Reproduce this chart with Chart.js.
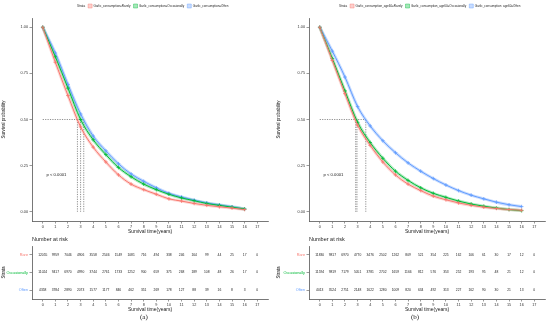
<!DOCTYPE html>
<html>
<head>
<meta charset="utf-8">
<script src="https://cdn.jsdelivr.net/npm/chart.js@4.4.1/dist/chart.umd.min.js"></script>
<style>
  body { margin: 0; background: #fff; }
  #wrap { position: relative; width: 550px; height: 325px; overflow: hidden; background: #fff; }
  canvas { position: absolute; }
  .cap { position: absolute; top: 313px; font-family: "Liberation Serif", serif; font-size: 7px; color: #222; }
</style>
</head>
<body>
<div id="wrap">
  <canvas id="survA" style="left:0;top:0" width="275" height="236"></canvas>
  <canvas id="riskA" style="left:0;top:232px" width="275" height="82"></canvas>
  <canvas id="survB" style="left:275px;top:0" width="275" height="236"></canvas>
  <canvas id="riskB" style="left:275px;top:232px" width="275" height="82"></canvas>
  <div class="cap" style="left:140px">(a)</div>
  <div class="cap" style="left:411px">(b)</div>
</div>
<script>
// survival curves, read at whole years
const years = [0, 1, 2, 3, 4, 5, 6, 7, 8, 9, 10, 11, 12, 13, 14, 15, 16];
const survRareA = [1.0, 0.81, 0.63, 0.46, 0.35, 0.27, 0.20, 0.15, 0.12, 0.095, 0.07, 0.058, 0.045, 0.035, 0.027, 0.02, 0.012];
const survOccA = [1.0, 0.84, 0.67, 0.50, 0.39, 0.31, 0.24, 0.19, 0.15, 0.12, 0.095, 0.075, 0.06, 0.045, 0.035, 0.025, 0.015];
const survOftenA = [1.0, 0.86, 0.69, 0.53, 0.41, 0.33, 0.26, 0.205, 0.165, 0.13, 0.10, 0.08, 0.063, 0.048, 0.037, 0.027, 0.015];

const survRareB = [1.0, 0.82, 0.64, 0.47, 0.36, 0.27, 0.20, 0.15, 0.115, 0.085, 0.065, 0.048, 0.035, 0.025, 0.018, 0.012, 0.008];
const survOccB = [1.0, 0.83, 0.655, 0.485, 0.375, 0.29, 0.22, 0.17, 0.13, 0.10, 0.078, 0.058, 0.042, 0.03, 0.02, 0.012, 0.006];
const survOftenB = [1.0, 0.87, 0.73, 0.57, 0.465, 0.385, 0.32, 0.265, 0.22, 0.18, 0.145, 0.115, 0.09, 0.07, 0.052, 0.038, 0.028];

const mediansA = [2.75, 3.0, 3.25];
const mediansB = [2.85, 2.95, 3.65];

// number at risk
const riskTimes = [0, 1, 2, 3, 4, 5, 6, 7, 8, 9, 10, 11, 12, 13, 14, 15, 16, 17];
const riskRareA = [12055, 9959, 7046, 4906, 3558, 2546, 1549, 1081, 716, 494, 338, 246, 164, 99, 44, 25, 17, 0];
const riskOccA = [11024, 9417, 6970, 4990, 3744, 2761, 1733, 1252, 900, 659, 375, 268, 189, 108, 48, 26, 17, 0];
const riskOftenA = [4358, 3784, 2890, 2073, 1577, 1177, 846, 462, 351, 269, 178, 127, 88, 39, 16, 8, 3, 0];

const riskRareB = [11830, 9817, 6970, 4770, 3476, 2502, 1262, 809, 521, 354, 225, 162, 106, 61, 30, 17, 12, 0];
const riskOccB = [11594, 9819, 7179, 5051, 3781, 2702, 1659, 1166, 812, 576, 353, 252, 193, 95, 48, 21, 12, 0];
const riskOftenB = [4013, 3524, 2751, 2148, 1622, 1280, 1009, 820, 634, 492, 313, 227, 162, 90, 30, 21, 13, 0];

const rowLabels = ["Rare", "Occasionally", "Often"];
const legendA = ["Garlic_consumption=Rarely", "Garlic_consumption=Occasionally", "Garlic_consumption=Often"];
const legendB = ["Garlic_consumption_age60=Rarely", "Garlic_consumption_age60=Occasionally", "Garlic_consumption_age60=Often"];
const xTicks = [0, 1, 2, 3, 4, 5, 6, 7, 8, 9, 10, 11, 12, 13, 14, 15, 16, 17];
const yTicks = [0, 0.25, 0.5, 0.75, 1.0];

const colors = ["#F8766D", "#00BA38", "#619CFF"];
const bands = ["rgba(248,118,109,0.3)", "rgba(0,186,56,0.3)", "rgba(97,156,255,0.35)"];
const lightBoxes = ["rgba(248,118,109,0.35)", "rgba(0,186,56,0.35)", "rgba(97,156,255,0.35)"];
const FONT = "'Liberation Sans', Arial, sans-serif";
const TXT = "#333";

const medianLines = {
    id: "medianLines",
    beforeDatasetsDraw(chart, args, opts) {
        const { ctx, scales: { x, y } } = chart;
        const meds = opts.medians;
        const yHalf = y.getPixelForValue(0.5);
        ctx.save();
        ctx.strokeStyle = "#444";
        ctx.lineWidth = 0.6;
        ctx.setLineDash([1.2, 1.2]);
        ctx.beginPath();
        ctx.moveTo(x.getPixelForValue(0), yHalf);
        ctx.lineTo(x.getPixelForValue(Math.max(...meds)), yHalf);
        meds.forEach((m) => {
            ctx.moveTo(x.getPixelForValue(m), yHalf);
            ctx.lineTo(x.getPixelForValue(m), y.getPixelForValue(0));
        });
        ctx.stroke();
        ctx.setLineDash([]);
        ctx.fillStyle = "#222";
        ctx.font = "4.2px " + FONT;
        ctx.textBaseline = "middle";
        ctx.fillText("p < 0.0001", x.getPixelForValue(0.3), y.getPixelForValue(0.2));
        ctx.restore();
    },
};

const riskNumbers = {
    id: "riskNumbers",
    afterDraw(chart, args, opts) {
        const { ctx, scales: { x, y }, chartArea } = chart;
        ctx.save();
        ctx.fillStyle = "#222";
        ctx.font = "3.3px " + FONT;
        ctx.textAlign = "center";
        ctx.textBaseline = "middle";
        opts.rows.forEach((row, r) => {
            row.forEach((n, i) => {
                ctx.fillText(String(n), x.getPixelForValue(riskTimes[i]), y.getPixelForValue(r));
            });
        });
        ctx.font = "5.5px " + FONT;
        ctx.textAlign = "left";
        ctx.textBaseline = "alphabetic";
        ctx.fillText("Number at risk", chartArea.left, chartArea.top - 5);
        ctx.restore();
    },
};

const axisStyle = (title, fit) => ({
    type: "linear",
    border: { display: true, color: "#555", width: 0.8 },
    grid: { drawOnChartArea: false, drawTicks: true, tickLength: 2.5, color: "#555", lineWidth: 0.6 },
    ticks: { color: TXT, font: { family: FONT, size: 3.8 }, padding: 1.5 },
    title: { display: true, text: title, color: "#222", font: { family: FONT, size: 5 }, padding: 1 },
    afterFit: fit,
});

const makeSurvChart = (id, series, labels, medians, left, right) => {
    const ctx = document.getElementById(id).getContext("2d");
    const datasets = [];
    series.forEach((s, i) => {
        const pts = years.map((t, k) => ({ x: t, y: s[k] }));
        datasets.push({
            label: labels[i],
            data: pts,
            borderColor: colors[i],
            borderWidth: 1,
            pointStyle: "cross",
            pointRadius: 1.8,
            pointBorderWidth: 0.8,
            pointBorderColor: colors[i],
            cubicInterpolationMode: "monotone",
            order: 1,
        });
        datasets.push({
            label: labels[i] + " CI",
            data: pts,
            borderColor: bands[i],
            borderWidth: 3,
            pointRadius: 0,
            cubicInterpolationMode: "monotone",
            order: 2,
        });
    });
    const x = axisStyle("Survival time(years)", (s) => { s.height = 15; });
    x.min = -0.85;
    x.max = 17.85;
    x.afterBuildTicks = (s) => { s.ticks = xTicks.map((v) => ({ value: v })); };
    const y = axisStyle("Survival probability", (s) => { s.width = left; });
    y.min = -0.05;
    y.max = 1.05;
    y.afterBuildTicks = (s) => { s.ticks = yTicks.map((v) => ({ value: v })); };
    y.ticks.callback = (v) => Number(v).toFixed(2);
    y.title.font.size = 4.5;

    return new Chart(ctx, {
        type: "line",
        data: { datasets },
        options: {
            responsive: false,
            animation: false,
            layout: { padding: { top: 1, right: right, left: 0, bottom: 0 } },
            scales: { x, y },
            plugins: {
                tooltip: { enabled: false },
                medianLines: { medians },
                legend: {
                    position: "top",
                    fullSize: false,
                    labels: {
                        boxWidth: 4,
                        boxHeight: 4,
                        padding: 3,
                        color: "#222",
                        font: { family: FONT, size: 3 },
                        generateLabels: () => [
                            { text: "Strata", fillStyle: "rgba(0,0,0,0)", strokeStyle: "rgba(0,0,0,0)", lineWidth: 0, fontColor: "#222" },
                        ].concat(labels.map((l, i) => ({
                            text: l,
                            fillStyle: lightBoxes[i],
                            strokeStyle: colors[i],
                            lineWidth: 0.4,
                            fontColor: "#222",
                        }))),
                    },
                },
            },
        },
        plugins: [medianLines],
    });
};

const makeRiskChart = (id, rows, left, right) => {
    const ctx = document.getElementById(id).getContext("2d");
    const x = axisStyle("Survival time(years)", (s) => { s.height = 15; });
    x.min = -0.85;
    x.max = 17.85;
    x.afterBuildTicks = (s) => { s.ticks = xTicks.map((v) => ({ value: v })); };
    const y = axisStyle("Strata", (s) => { s.width = left; });
    y.type = "category";
    y.labels = rowLabels;
    y.offset = true;
    y.ticks.color = (c) => colors[c.index];
    y.title.font.size = 4.5;

    return new Chart(ctx, {
        type: "scatter",
        data: { datasets: [] },
        options: {
            responsive: false,
            animation: false,
            layout: { padding: { top: 14, right: right, left: 0, bottom: 0 } },
            scales: { x, y },
            plugins: {
                legend: { display: false },
                tooltip: { enabled: false },
                riskNumbers: { rows },
            },
        },
        plugins: [riskNumbers],
    });
};

makeSurvChart("survA", [survRareA, survOccA, survOftenA], legendA, mediansA, 32, 7);
makeRiskChart("riskA", [riskRareA, riskOccA, riskOftenA], 32, 7);
makeSurvChart("survB", [survRareB, survOccB, survOftenB], legendB, mediansB, 34, 5);
makeRiskChart("riskB", [riskRareB, riskOccB, riskOftenB], 34, 5);
</script>
</body>
</html>
